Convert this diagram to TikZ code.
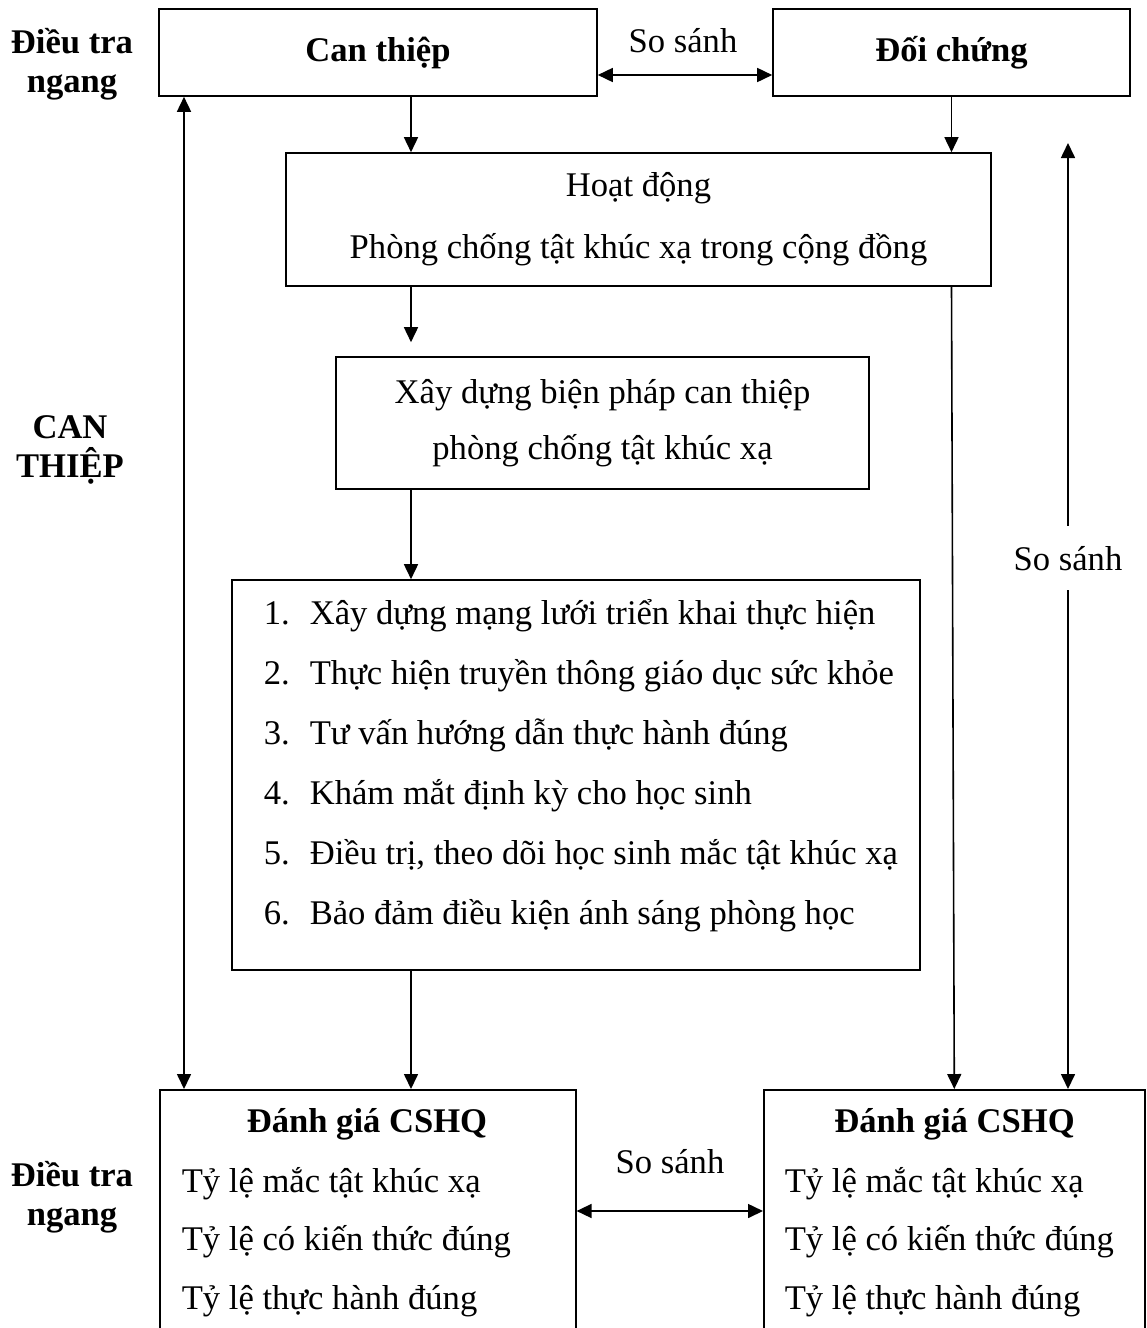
\documentclass[tikz,border=0pt]{standalone}
\usepackage{fontspec}
\setmainfont{Liberation Serif}
\usetikzlibrary{arrows.meta,positioning}
\begin{document}
\begin{tikzpicture}[x=0.5pt,y=-0.5pt,>={Triangle[length=7.5pt,width=7pt]},
	font=\fontsize{17.3}{20}\selectfont, line width=0.8pt,
	hop/.style={draw, inner sep=0pt, align=center},
	chu/.style={inner sep=0pt},
	nhan/.style={font=\fontsize{17.3}{19.5}\selectfont\bfseries, align=center, inner sep=0pt}]
	\useasboundingbox (0,0) rectangle (1146,1328);
	\coordinate (xa) at (411,0); \coordinate (xl) at (184,0); \coordinate (rt) at (1068,143);
	\coordinate (ya) at (0,75); \coordinate (yb) at (0,1211);
	% Nhãn bên trái
	\node[nhan] (dt1) at (72,64) {Điều tra\\ngang};
	\node[nhan] (cth) at (70,450) {CAN\\THIỆP};
	\node[nhan] (dt2) at (72,1197) {Điều tra\\ngang};
	% Hàng trên
	\node[hop, minimum width=219pt, minimum height=43.5pt, font=\fontsize{17.3}{20}\selectfont\bfseries] (ct) at (378,52.5) {Can thiệp};
	\node[hop, minimum width=178.5pt, minimum height=43.5pt, font=\fontsize{17.3}{20}\selectfont\bfseries] (dc) at (951.5,52.5) {Đối chứng};
	\draw[<->] (ct.east |- ya) -- (dc.west |- ya);
	\node[chu, anchor=base] (ss1) at (683,52) {So sánh};
	% Can thiệp
	\node[hop, minimum width=352.5pt, minimum height=66.5pt, font=\fontsize{17.3}{31}\selectfont] (hd) at (638.5,219.5) {Hoạt động\\Phòng chống tật khúc xạ trong cộng đồng};
	\node[hop, minimum width=266.5pt, minimum height=66pt, font=\fontsize{17.3}{28}\selectfont] (xd) at (602.5,423) {Xây dựng biện pháp can thiệp\\phòng chống tật khúc xạ};
	\node[hop, minimum width=344pt, minimum height=195pt] (ds) at (576,775) {};
	\foreach \i/\t in {1/Xây dựng mạng lưới triển khai thực hiện,
		2/Thực hiện truyền thông giáo dục sức khỏe,
		3/Tư vấn hướng dẫn thực hành đúng,
		4/Khám mắt định kỳ cho học sinh,
		5/{Điều trị, theo dõi học sinh mắc tật khúc xạ},
		6/Bảo đảm điều kiện ánh sáng phòng học}{
		\node[chu, anchor=base west] (n\i) at (263,{624+60*(\i-1)}) {\i.};
		\node[chu, anchor=base west] (m\i) at (309,{624+60*(\i-1)}) {\t};
	}
	% Đánh giá
	\node[draw, inner sep=0pt, anchor=north west, minimum width=208pt, minimum height=150pt] (bl) at (159,1089) {};
	\node[draw, inner sep=0pt, anchor=north west, minimum width=190.5pt, minimum height=150pt] (br) at (763,1089) {};
	\node[chu, anchor=base, font=\fontsize{17.3}{20}\selectfont\bfseries] (blt) at (367,1132) {Đánh giá CSHQ};
	\node[chu, anchor=base, font=\fontsize{17.3}{20}\selectfont\bfseries] (brt) at (954.5,1132) {Đánh giá CSHQ};
	\foreach \k/\t in {1/Tỷ lệ mắc tật khúc xạ, 2/Tỷ lệ có kiến thức đúng, 3/Tỷ lệ thực hành đúng}{
		\node[chu, anchor=base west] (l\k) at (181,{1192+58.5*(\k-1)}) {\t};
		\node[chu, anchor=base west] (r\k) at (784,{1192+58.5*(\k-1)}) {\t};
	}
	\draw[<->] (bl.east |- yb) -- (br.west |- yb);
	\node[chu, anchor=base] (ss2) at (670,1173) {So sánh};
	% Mũi tên
	\draw[->] (xa |- ct.south) -- (xa |- hd.north);
	\draw[->] (dc.south) -- (dc.south |- hd.north);
	\draw[->, shorten >=7pt] (xa |- hd.south) -- (xa |- xd.north);
	\draw[->] (xa |- xd.south) -- (xa |- ds.north);
	\draw[->] (xa |- ds.south) -- (xa |- bl.north);
	\draw[<->] (xl |- bl.north) -- (xl |- ct.south);
	\draw[->] (dc.south |- hd.south) -- (br.north);
	\draw[<->] (rt) -- (rt |- br.north) node[pos=0.439, fill=white, inner xsep=2pt, inner ysep=10pt] (ss3) {So sánh};
\end{tikzpicture}
\end{document}
